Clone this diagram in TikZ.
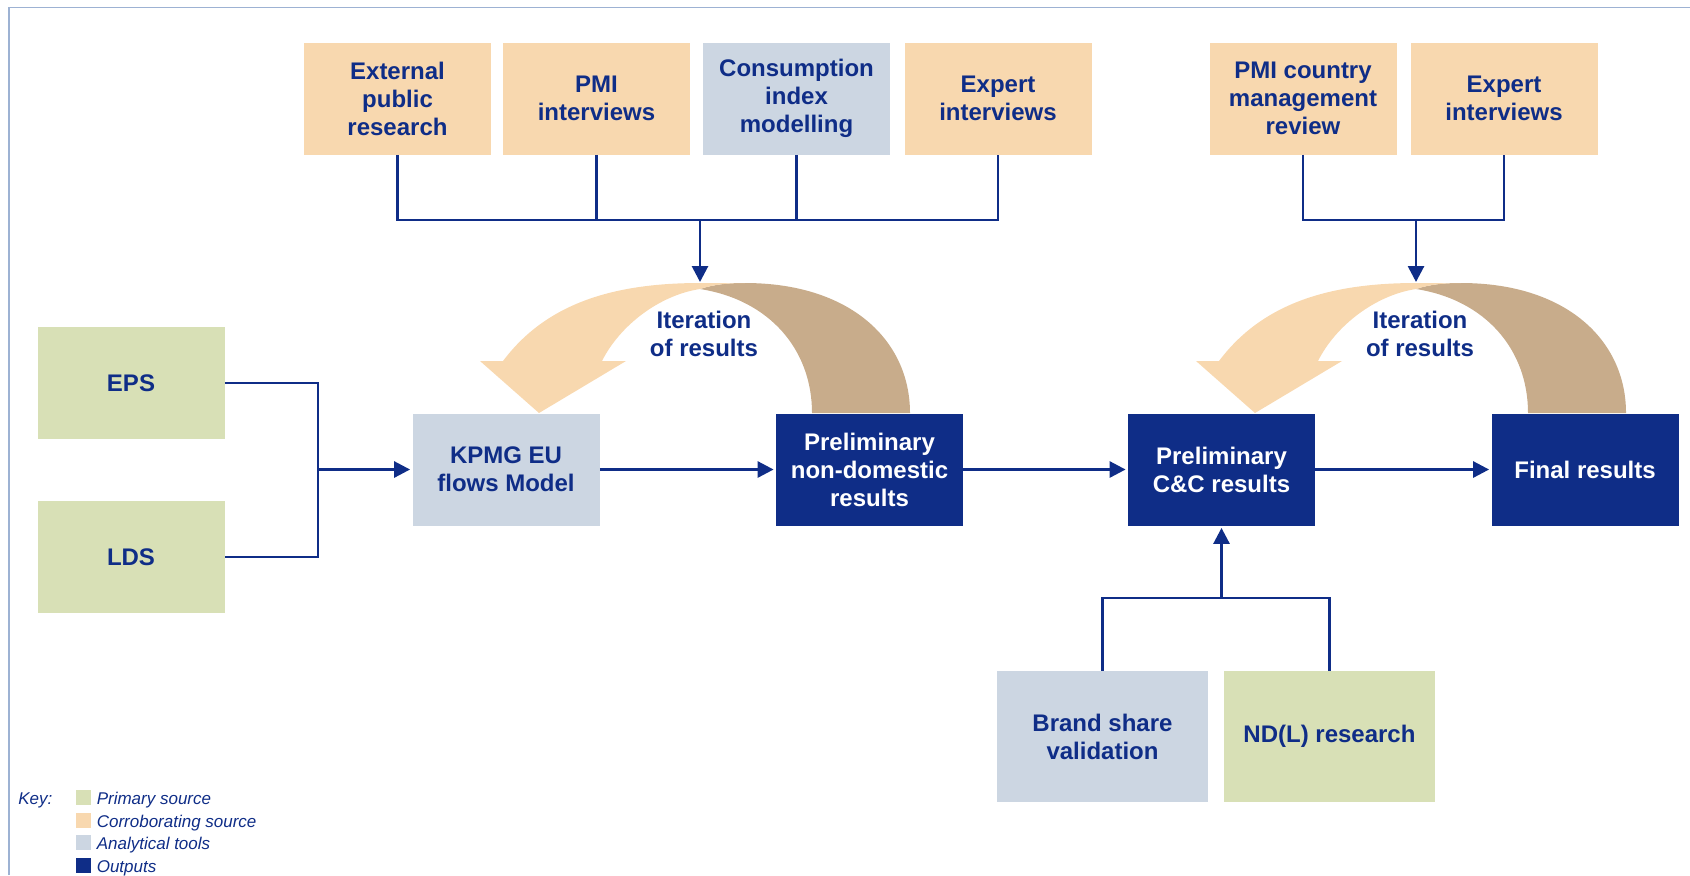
\documentclass[tikz,border=0pt]{standalone}
\usepackage{fontspec}
\setmainfont{Liberation Sans}
\usetikzlibrary{arrows.meta,positioning}
\definecolor{kblue}{HTML}{0F2D87}
\definecolor{kpeach}{HTML}{F8D8AF}
\definecolor{kgreen}{HTML}{D8E0B6}
\definecolor{kgrey}{HTML}{CCD6E2}
\definecolor{ktan}{HTML}{C8AC8B}
\definecolor{kframe}{HTML}{9DB2D3}
\newcommand{\boxfont}{\bfseries\fontsize{12}{14}\selectfont}
\newcommand{\keyfont}{\itshape\fontsize{8.5}{10}\selectfont}
% iteration arc, #1 = shift, #2 = label name
\newcommand{\iterarc}[2]{%
\begin{scope}[shift={(#1,0)}]
\fill[ktan] (700,289) .. controls (715,284) and (730,283) .. (745,283) .. controls (850,283) and (910,340) .. (910,413) -- (812,413) .. controls (812,350) and (770,300) .. (700,289) -- cycle;
\fill[kpeach] (503,361) .. controls (545,305) and (610,283) .. (700,283) -- (745,283) .. controls (730,283) and (715,284) .. (700,289) .. controls (660,295) and (620,325) .. (602,361) -- (626,361) -- (539,413) -- (480,361) -- cycle;
\node[label] (#2) at (704,334) {Iteration\\of results};
\end{scope}}

\begin{document}
\begin{tikzpicture}[x=0.5pt,y=-0.5pt]
\tikzset{box/.style={minimum width=93.5pt,minimum height=56pt,inner sep=0pt,align=center,font=\boxfont,text=kblue},
primary/.style={box,fill=kgreen},
corrob/.style={box,fill=kpeach},
tool/.style={box,fill=kgrey},
output/.style={box,fill=kblue,text=white},
big/.style={minimum width=105.5pt,minimum height=65.5pt},
label/.style={align=center,font=\boxfont,text=kblue,inner sep=0pt},
link/.style={draw=kblue,line width=1.4pt},
arr/.style={link,-{Triangle[width=8pt,length=8pt]},shorten >=1pt},
keysq/.style={minimum size=7.5pt,inner sep=0pt},
keytext/.style={font=\keyfont,text=kblue,inner sep=0pt}}
\useasboundingbox (0,0) rectangle (1690,875);
\draw[kframe,line width=0.8pt] (9,875) -- (9,7.5) -- (1690,7.5);

% sources at the top
\node[corrob] (ext) at (397.5,98.5) {External\\public\\research};
\node[corrob] (pmi) at (596.5,98.5) {PMI\\interviews};
\node[tool] (cim) at (796.5,98.5) {Consumption\\index\\modelling};
\node[corrob] (exp1) at (998,98.5) {Expert\\interviews};
\node[corrob] (pmicm) at (1303,98.5) {PMI country\\management\\review};
\node[corrob] (exp2) at (1504,98.5) {Expert\\interviews};

% main flow
\node[primary] (eps) at (131,383) {EPS};
\node[primary] (lds) at (131,557) {LDS};
\node[tool] (kpmg) at (506,469.5) {KPMG EU\\flows Model};
\node[output] (prel) at (869.5,469.5) {Preliminary\\non-domestic\\results};
\node[output] (cc) at (1221.5,469.5) {Preliminary\\C\&C results};
\node[output] (final) at (1585,469.5) {Final results};

\node[tool,big] (brand) at (1102.5,736.5) {Brand share\\validation};
\node[primary,big] (ndl) at (1329.5,736.5) {ND(L) research};

\iterarc{0}{iter1}
\iterarc{716}{iter2}

\coordinate (j1) at (700,220);
\coordinate (a1) at (700,284);
\coordinate (j2) at (1416,220);
\coordinate (a2) at (1416,284);
\coordinate (jx) at (318,469.5);
\coordinate (jb) at (1221.5,598);

\draw[link] (ext.south) |- (j1) -| (exp1.south);
\draw[link] (pmi.south) -- (pmi.south |- j1);
\draw[link] (cim.south) -- (cim.south |- j1);
\draw[arr] (j1) -- (a1);
\draw[link] (pmicm.south) |- (j2) -| (exp2.south);
\draw[arr] (j2) -- (a2);

\draw[link] (eps.east) -| (jx) |- (lds.east);
\draw[arr] (jx) -- (kpmg.west);
\draw[arr] (kpmg) -- (prel);
\draw[arr] (prel) -- (cc);
\draw[arr] (cc) -- (final);

\draw[link] (brand.north) |- (jb) -| (ndl.north);
\draw[arr] (jb) -- (cc.south);

% key
\node[keytext,anchor=west,yshift=-1.5pt] (keylbl) at (18,797.5) {Key:};
\foreach \c/\t [count=\i] in {kgreen/Primary source,kpeach/Corroborating source,kgrey/Analytical tools,kblue/Outputs}{
\node[keysq,fill=\c] (k\i) at (83.5,775+22.5*\i) {};
\node[keytext,right=2.5pt of k\i,yshift=-1.5pt] (kt\i) {\t};
}
\end{tikzpicture}
\end{document}
